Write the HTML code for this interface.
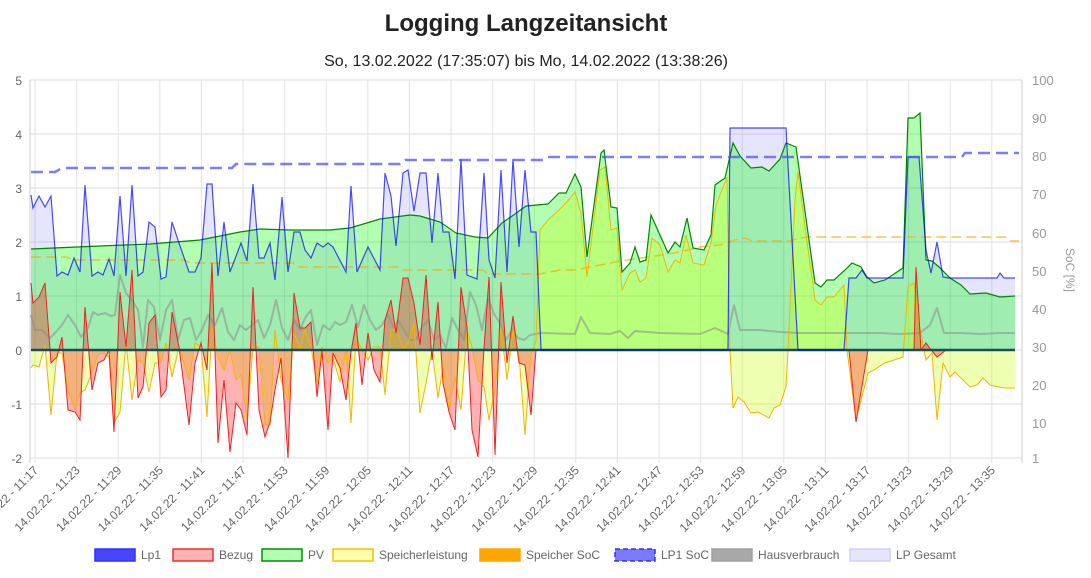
<!DOCTYPE html>
<html><head><meta charset="utf-8"><style>
body{margin:0;background:#fff;font-family:"Liberation Sans",sans-serif;}
svg{display:block}
</style></head><body>
<svg id="s" width="1091" height="578" xmlns="http://www.w3.org/2000/svg" font-family="Liberation Sans, sans-serif">
<text x="526" y="31" text-anchor="middle" font-size="24" font-weight="bold" fill="#222">Logging Langzeitansicht</text>
<text x="526" y="66" text-anchor="middle" font-size="16" fill="#222">So, 13.02.2022 (17:35:07) bis Mo, 14.02.2022 (13:38:26)</text>
<g id="g"></g>
</svg>
<script>
const NS="http://www.w3.org/2000/svg",g=document.getElementById('g');
function el(t,a,txt){const e=document.createElementNS(NS,t);for(const k in a)e.setAttribute(k,a[k]);if(txt!==undefined)e.textContent=txt;g.appendChild(e);return e;}
function pr(a){let p=[];for(let i=0;i<a.length;i+=2)p.push(a[i]+' '+a[i+1]);return p;}
function line(a){return 'M'+pr(a).join(' L');}
function area(a){return line(a)+' L'+a[a.length-2]+' 350 L'+a[0]+' 350 Z';}
for(let i=0;i<8;i++){const y=80+i*54;el('line',{x1:30,x2:1022,y1:y,y2:y,stroke:'#ddd','stroke-width':1});
el('text',{x:22,y:y+5,'text-anchor':'end','font-size':12,fill:'#666'},String(5-i));}
for(let i=0;i<24;i++){const x=35+i*41.6;el('line',{x1:x,x2:x,y1:80,y2:463,stroke:'#e3e3e3'});
const h=11*60+17+i*6,lb='14.02.22 - '+Math.floor(h/60)+':'+String(h%60).padStart(2,'0');
el('text',{x:0,y:0,'text-anchor':'end','font-size':12,fill:'#666',transform:`translate(${x+4},${471}) rotate(-45)`},lb);}
el('line',{x1:30,x2:30,y1:80,y2:463,stroke:'#ccc'});
el('line',{x1:1022,x2:1022,y1:80,y2:463,stroke:'#ccc'});
[[100,80],[90,118],[80,156],[70,194],[60,233],[50,271],[40,309],[30,347],[20,385],[10,423],[1,458]].forEach(([v,y])=>el('text',{x:1032,y:y+5,'font-size':13,fill:'#999'},String(v)));
el('text',{x:0,y:0,'font-size':12,fill:'#999','text-anchor':'middle',transform:'translate(1066,270) rotate(90)'},'SoC [%]');

const lp1=[31,195,33,208,39,196,45,207,51,196,57,276,62,272,68,275,74,258,80,272,85,185,92,276,98,272,103,275,109,259,114,276,120,196,126,276,132,185,138,276,143,272,149,222,155,227,161,279,166,277,172,222,179,243,189,272,195,272,201,258,207,184,212,184,218,276,224,222,230,272,241,243,247,261,253,184,259,258,264,258,270,243,275,280,282,197,288,272,294,232,300,232,305,250,311,258,317,243,323,247,328,243,333,247,346,272,351,186,357,272,368,247,380,270,385,173,391,196,396,246,403,173,408,170,414,211,420,173,426,173,432,243,438,173,443,232,449,232,455,279,461,159,467,275,477,279,484,173,489,260,495,278,501,170,507,272,513,159,519,247,525,170,531,232,536,232,541,350,728,350,730,128,786,128,798,350,844,350,849,278,856,278,862,270,867,278,903,278,908,157,919,157,926,250,931,273,937,242,943,277,949,278,997,278,1000,273,1004,278,1015,278];
const pv=[31,249,100,246,150,244,200,240,240,232,260,229,290,230,330,230,350,228,380,219,410,215,420,216,440,222,456,233,475,237,488,238,502,223,515,214,526,206,548,204,559,193,566,193,575,174,581,187,587,257,601,153,604,150,611,207,617,208,622,272,630,263,635,247,640,262,646,260,651,215,668,253,675,242,680,247,687,218,693,248,704,250,711,235,715,185,725,178,733,143,740,156,751,168,762,167,769,171,780,159,786,143,796,147,815,283,821,287,827,280,834,280,845,270,852,263,861,267,867,277,874,283,885,280,903,268,908,118,914,118,920,113,926,260,932,261,939,267,950,278,961,285,970,294,986,293,1000,297,1015,296];
const bez=[31,283,33,303,39,297,45,283,51,363,57,357,62,337,68,410,75,412,80,420,85,307,92,390,98,363,104,360,109,350,114,432,120,292,126,347,132,270,138,398,143,387,149,323,155,315,161,397,166,390,172,312,179,347,189,425,195,363,201,343,207,370,212,263,218,443,224,380,230,452,236,403,241,410,247,435,253,287,259,410,265,437,270,422,275,390,281,358,288,458,294,293,300,328,305,328,311,322,317,397,322,351,328,430,333,353,340,368,346,400,351,352,356,323,362,385,368,333,374,370,380,382,385,320,391,300,396,333,403,278,408,278,414,303,420,345,426,275,432,360,438,302,443,383,449,412,455,430,461,287,467,327,472,430,478,457,484,348,489,277,495,455,501,282,507,363,513,316,519,363,525,365,531,415,536,350,849,350,856,422,868,350,914,350,916,267,921,350,926,343,932,351,937,357,946,350,1015,350];
const sp=[31,368,33,365,39,367,45,345,51,415,57,353,62,353,68,390,75,410,80,393,85,390,92,373,98,355,104,353,109,357,114,423,120,412,126,343,132,400,138,360,143,363,149,392,155,363,161,363,166,343,172,377,179,347,189,380,195,343,201,347,207,417,212,327,218,357,224,370,230,350,236,380,241,375,247,420,253,347,259,347,265,425,270,425,275,330,281,380,288,400,294,333,300,348,305,330,311,347,317,383,322,347,328,363,333,358,340,382,346,350,351,423,356,337,362,350,368,360,374,347,380,347,385,395,391,330,396,329,403,348,408,343,414,323,420,413,426,383,432,350,438,398,443,367,449,410,455,377,461,410,467,330,472,347,478,380,484,387,489,420,495,390,501,327,507,380,513,330,519,355,525,435,531,353,536,342,540,230,548,220,559,210,566,203,575,192,581,213,587,277,600,170,605,167,611,230,617,228,622,290,630,273,635,270,640,282,646,278,652,238,660,245,668,272,675,260,680,263,686,235,693,263,704,265,711,243,716,205,727,177,730,350,733,408,738,397,744,402,751,413,758,412,769,418,774,408,780,405,786,387,788,350,795,200,798,172,805,227,815,300,821,305,827,297,834,297,844,285,847,350,856,420,868,373,874,370,885,363,903,357,908,287,914,283,919,323,926,360,932,353,937,420,943,363,950,377,955,372,970,387,977,385,983,378,990,385,1004,388,1015,388];
const hv=[31,315,35,330,42,330,50,338,55,333,62,325,68,315,75,325,81,337,88,328,93,312,98,315,105,313,111,316,115,315,120,275,126,293,132,300,138,310,143,347,148,300,154,307,160,340,166,310,172,300,178,340,184,320,190,318,196,340,202,330,208,315,215,325,222,308,228,332,234,340,240,325,246,330,252,325,258,320,264,338,270,325,276,300,282,328,288,340,294,320,300,330,305,318,311,310,317,345,323,325,330,330,335,322,340,325,346,322,352,305,358,327,364,305,370,320,376,330,382,325,388,315,394,328,398,320,404,330,410,340,416,340,422,327,428,320,434,340,440,335,446,348,452,318,458,330,464,340,470,292,476,305,482,330,488,298,494,314,500,323,506,340,512,330,518,338,524,340,530,335,541,333,575,334,581,317,590,333,610,334,620,331,628,338,635,331,660,333,700,334,715,328,728,334,734,305,740,330,760,330,780,332,800,333,840,333,880,333,900,334,920,333,930,325,937,308,944,333,960,333,980,334,1000,333,1015,333];
const sp_soc=[31,257,66,257,75,260,185,260,190,263,293,263,298,267,397,267,402,270,483,270,488,274,540,274,560,270,575,270,600,265,620,261,655,256,680,252,700,247,720,245,735,240,745,238,752,241,790,241,800,238,810,237,1005,237,1010,241,1019,241];
const lp_soc=[31,172,55,172,62,168,232,168,236,164,400,164,405,160,543,160,548,157,962,157,965,153,1019,153];

el('path',{d:area(lp1),fill:'rgba(0,0,255,0.1)'});
el('path',{d:area(pv),fill:'rgba(0,255,0,0.3)'});
el('path',{d:area(sp),fill:'rgba(200,255,0,0.3)'});
el('path',{d:area(bez),fill:'rgba(255,0,0,0.3)'});
el('path',{d:line(hv),fill:'none',stroke:'rgba(140,140,140,0.55)','stroke-width':2,'stroke-linejoin':'round'});
el('path',{d:line(sp_soc),fill:'none',stroke:'rgba(255,165,0,0.7)','stroke-width':1.5,'stroke-dasharray':'10 5'});
el('path',{d:line(pv),fill:'none',stroke:'#008800','stroke-width':1.2});
el('path',{d:line(sp),fill:'none',stroke:'#f5b400','stroke-width':1});
el('path',{d:line(bez),fill:'none',stroke:'#ee2222','stroke-width':1});
el('line',{x1:31,x2:1015,y1:350,y2:350,stroke:'#1f4a5c','stroke-width':2.5});
el('path',{d:line(lp1),fill:'none',stroke:'rgba(0,0,255,0.7)','stroke-width':1.2});
el('path',{d:line(lp_soc),fill:'none',stroke:'rgba(80,80,255,0.75)','stroke-width':2.5,'stroke-dasharray':'12 6'});

const L=[[95,'Lp1','rgba(60,60,255,0.95)','#3030ff',''],[173,'Bezug','rgba(255,0,0,0.3)','#f03030',''],[262,'PV','rgba(0,255,0,0.3)','#009000',''],[333,'Speicherleistung','rgba(255,255,0,0.3)','#f5c000',''],[480,'Speicher SoC','#ffa500','#ffa500',''],[615,'LP1 SoC','rgba(90,90,255,0.8)','#3030ff','5 3'],[712,'Hausverbrauch','#a8a8a8','#a0a0a0',''],[850,'LP Gesamt','rgba(0,0,255,0.1)','#d0d0f8','']];
L.forEach(([x,t,f,s,d])=>{el('rect',{x:x,y:549,width:40,height:12,fill:f,stroke:s,'stroke-width':1.5,'stroke-dasharray':d});
el('text',{x:x+46,y:559,'font-size':12,fill:'#666'},t);});
</script>
</body></html>
